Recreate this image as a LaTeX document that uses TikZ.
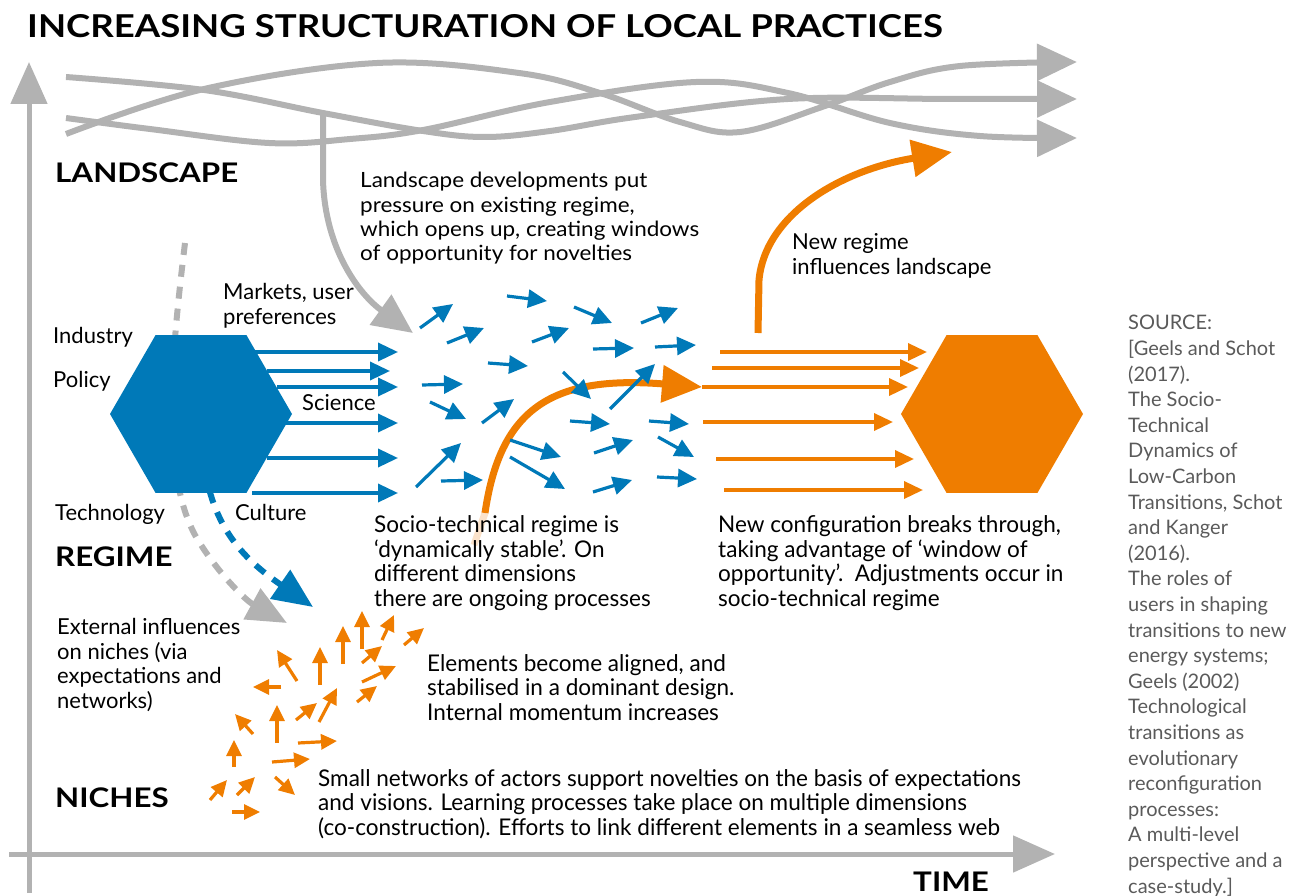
\documentclass[tikz,border=0pt]{standalone}
\usepackage{fontspec}
\setmainfont{Lato}
\newfontfamily\condfont[FakeStretch=0.98,Ligatures=TeX]{Lato}
\newfontfamily\storyfont[FakeStretch=1.07,Ligatures=TeX]{Lato}
\newfontfamily\headfont[FakeStretch=1.16,Ligatures=TeX]{Lato}
\usepackage{tikz}
\usetikzlibrary{arrows.meta,positioning,shapes.geometric}
\definecolor{mlpblue}{RGB}{0,121,184}
\definecolor{mlporange}{RGB}{239,125,0}
\definecolor{mlpgrey}{RGB}{178,178,178}
\definecolor{srcgrey}{RGB}{90,90,90}
\definecolor{peach}{RGB}{251,226,202}

\begin{document}
\begin{tikzpicture}[x=1pt,y=-1pt,
				hexa/.style={regular polygon, regular polygon sides=6, minimum size=182pt, inner sep=0pt, outer sep=0pt}
				,landline/.style={line width=6pt, draw=mlpgrey, -{Triangle[length=40pt,width=36pt]}}
				,axisline/.style={line width=5pt, draw=mlpgrey, -{Triangle[length=42pt,width=36pt]}}
				,bluepush/.style={line width=3.5pt, draw=mlpblue, -{Triangle[length=20pt,width=18pt]}}
				,bluebit/.style={line width=3.2pt, draw=mlpblue, -{Triangle[length=19pt,width=18pt]}}
				,orangepush/.style={line width=3.5pt, draw=mlporange, -{Triangle[length=19pt,width=17pt]}}
				,orangebit/.style={line width=3.2pt, draw=mlporange, -{Triangle[length=16pt,width=15pt]}}
				,bigorange/.style={line width=7pt, draw=mlporange, -{Triangle[length=40pt,width=36pt]}}
				,dashgrey/.style={line width=6pt, draw=mlpgrey, dash pattern=on 12pt off 10pt, -{Triangle[length=40pt,width=34pt]}}
				,dashblue/.style={line width=6pt, draw=mlpblue, dash pattern=on 12pt off 10pt, -{Triangle[length=40pt,width=34pt]}}
				,lbl/.style={inner sep=0pt, anchor=base west, align=left, font=\fontsize{22}{24.4}\selectfont}
				,story/.style={inner sep=0pt, anchor=base west, align=left, font=\storyfont\fontsize{21}{24.4}\selectfont}
				,condstory/.style={inner sep=0pt, anchor=base west, align=left, font=\condfont\fontsize{23}{24.4}\selectfont}
				,level/.style={inner sep=0pt, anchor=base west, font=\headfont\bfseries\fontsize{27}{30}\selectfont}
				]
				\useasboundingbox (0,0) rectangle (1293,896);
				
				% axes
				\coordinate (origin) at (29,893);
				\coordinate (up) at (29,62);
				\coordinate (left) at (9,854);
				\coordinate (right) at (1055,854);
				\draw[axisline] (origin) -- (up);
				\draw[axisline] (left) -- (right);
				
				% landscape trends
				\draw[landline] plot[smooth, tension=0.6] coordinates {(66,77) (204,90) (323,113) (423,131) (485,137) (550,131) (635,117) (788,99) (950,99) (1077,99)};
				\draw[landline] plot[smooth, tension=0.6] coordinates {(66,118) (150,129) (269,143) (350,139) (423,130) (550,102) (696,82) (788,93) (890,123) (980,136) (1077,138)};
				\draw[landline] plot[smooth, tension=0.6] coordinates {(66,134) (204,89) (377,63) (519,73) (600,93) (680,122) (740,132) (822,107) (890,82) (960,66) (1077,62)};
				
				\coordinate (drop) at (323,112);
				\coordinate (press) at (413,333);
				\draw[landline] (drop) -- (323,180) .. controls (325,250) and (360,295) .. (press);
				
				% external influences on niches
				\draw[dashgrey] (185,243) .. controls (172,350) and (160,470) .. (195,535) .. controls (215,570) and (245,600) .. (287,623);
				\draw[dashblue] (205,470) .. controls (215,530) and (245,560) .. (313,607);
				
				\node[hexa, fill=mlpblue] (regime) at (201,414) {};
				\node[hexa, fill=mlporange] (newregime) at (992,414) {};
				
				\foreach \y/\a/\b in {352/255/398, 371/267/390, 387/277/398, 423/285/398, 458/267/398, 493/252/398}
					\draw[bluepush] (\a,\y) -- (\b,\y);
				
				% breakthrough
				\coordinate (seed) at (485,513);
				\coordinate (entry) at (702,387);
				\draw[line width=7pt, peach] (seed) -- (474,545);
				\draw[bigorange] (seed) .. controls (500,410) and (550,375) .. (entry);
				
				\foreach \ax/\ay/\bx/\by in {420/328/453/304, 507/296/547/301, 574/307/612/323, 641/323/678/308, 447/343/484/328, 532/342/569/328, 593/349/634/348, 655/347/696/345, 488/363/528/366, 422/385/463/384, 563/372/591/399, 430/402/466/419, 482/423/514/399, 610/409/655/364, 570/421/610/424, 649/421/689/424, 510/440/561/457, 594/453/633/440, 658/437/694/457, 416/487/461/443, 441/481/483/480, 510/457/565/489, 593/492/632/480, 657/477/697/479}
					\draw[bluebit] (\ax,\ay) -- (\bx,\by);
				
				\foreach \y/\a/\b in {352/720/927, 368/712/919, 387/702/908, 422/703/893, 459/716/914, 490/724/923}
					\draw[orangepush] (\a,\y) -- (\b,\y);
				
				\coordinate (rise) at (758,333);
				\coordinate (reach) at (952,152);
				\draw[bigorange] (rise) -- (759,280) .. controls (765,215) and (840,170) .. (reach);
				
				\foreach \ax/\ay/\bx/\by in {297/681/277/650, 281/687/253/687, 320/685/320/647, 343/664/343/626, 362/649/362/611, 382/640/394/615, 404/645/424/628, 362/663/382/646, 362/682/396/666, 357/702/377/686, 296/720/317/703, 319/722/337/688, 277/743/277/705, 253/734/235/714, 234/767/234/740, 298/743/337/741, 272/762/310/759, 275/777/295/795, 210/800/227/780, 237/795/255/777, 232/812/260/812}
					\draw[orangebit] (\ax,\ay) -- (\bx,\by);
				
				% texts (multi-line nodes sit on their last baseline)
				\node[level, font=\headfont\bfseries\fontsize{31.5}{34}\selectfont] (title) at (27,38) {INCREASING STRUCTURATION OF LOCAL PRACTICES};
				\node[level] (landscape) at (55,183) {LANDSCAPE};
				\node[level] (regimehead) at (55,566) {REGIME};
				\node[level] (nicheshead) at (55,807) {NICHES};
				\node[level] (time) at (913,891) {TIME};
				
				\node[story] (pressure) at (360,261) {Landscape developments put\\pressure on existing regime,\\which opens up, creating windows\\of opportunity for novelties};
				\node[lbl] (markets) at (223,324) {Markets, user\\preferences};
				\node[lbl] (industry) at (53,343) {Industry};
				\node[lbl] (policy) at (53,387) {Policy};
				\node[lbl] (science) at (302,410) {Science};
				\node[lbl] (technology) at (55,520) {Technology};
				\node[lbl] (culture) at (235,520) {Culture};
				\node[lbl] (external) at (57,708) {External influences\\on niches (via\\expectations and\\networks)};
				\node[lbl] (influence) at (792,274) {New regime\\influences landscape};
				\node[condstory] (stable) at (374,606) {Socio-technical regime is\\‘dynamically stable’. On\\different dimensions\\there are ongoing processes};
				\node[condstory] (breaks) at (718,606) {New configuration breaks through,\\taking advantage of ‘window of\\opportunity’.\ \ Adjustments occur in\\socio-technical regime};
				\node[condstory] (aligned) at (427,720) {Elements become aligned, and\\stabilised in a dominant design.\\Internal momentum increases};
				\node[condstory] (small) at (318,835) {Small networks of actors support novelties on the basis of expectations\\and visions. Learning processes take place on multiple dimensions\\(co-construction). Efforts to link different elements in a seamless web};
				\node[inner sep=0pt, anchor=base west, align=left, text=srcgrey, font=\fontsize{20}{25.6}\selectfont] (source) at (1128,893) {SOURCE:\\{[}Geels and Schot\\(2017).\\The Socio-\\Technical\\Dynamics of\\Low-Carbon\\Transitions, Schot\\and Kanger\\(2016).\\The roles of\\users in shaping\\transitions to new\\energy systems;\\Geels (2002)\\Technological\\transitions as\\evolutionary\\reconfiguration\\processes:\\A multi-level\\perspective and a\\case-study.]};
			\end{tikzpicture}
\end{document}
